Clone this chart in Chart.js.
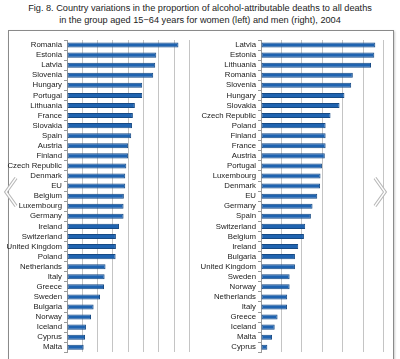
<!DOCTYPE html>
<html><head><meta charset="utf-8">
<script src="https://cdn.jsdelivr.net/npm/chart.js@4"></script>
<style>
html,body{margin:0;padding:0;background:#fff;width:400px;height:359px;overflow:hidden;position:relative;font-family:"Liberation Sans",Arial,sans-serif}
#title{position:absolute;left:0;top:2px;width:400px;text-align:center;font-size:9.2px;line-height:12px;color:#222}
#frame{position:absolute;left:8px;top:30px;width:384px;height:340px;border:1px solid #8a8a8a;box-shadow:1px 1px 2px #ccc}
#c1{position:absolute;left:0;top:0}
#c2{position:absolute;left:200px;top:0}
svg{position:absolute;left:0;top:0}
</style></head><body>
<div id="title">Fig. 8. Country variations in the proportion of alcohol-attributable deaths to all deaths<br>in the group aged 15−64 years for women (left) and men (right), 2004</div>
<div id="frame"></div>
<canvas id="c1" width="200" height="359"></canvas>
<canvas id="c2" width="200" height="359"></canvas>
<svg width="400" height="359">
<polyline points="16,178 6,192 16,206" fill="none" stroke="#b8b8b8" stroke-width="3.5"/>
<polyline points="16,178 6,192 16,206" fill="none" stroke="#fff" stroke-width="1.3"/>
<polyline points="375,178 385,192 375,206" fill="none" stroke="#b8b8b8" stroke-width="3.5"/>
<polyline points="375,178 385,192 375,206" fill="none" stroke="#fff" stroke-width="1.3"/>
</svg>
<script>
const womenCountries = ["Romania","Estonia","Latvia","Slovenia","Hungary","Portugal","Lithuania","France","Slovakia","Spain","Austria","Finland","Czech Republic","Denmark","EU","Belgium","Luxembourg","Germany","Ireland","Switzerland","United Kingdom","Poland","Netherlands","Italy","Greece","Sweden","Bulgaria","Norway","Iceland","Cyprus","Malta"];
const womenValues = [7.29,5.84,5.77,5.64,4.92,4.92,4.44,4.31,4.25,4.20,4.00,4.00,3.88,3.81,3.81,3.72,3.70,3.70,3.40,3.20,3.20,3.18,2.52,2.46,2.42,2.16,1.74,1.57,1.24,1.18,1.09];
const menCountries = ["Latvia","Estonia","Lithuania","Romania","Slovenia","Hungary","Slovakia","Czech Republic","Poland","Finland","France","Austria","Portugal","Luxembourg","Denmark","EU","Germany","Spain","Switzerland","Belgium","Ireland","Bulgaria","United Kingdom","Sweden","Norway","Netherlands","Italy","Greece","Iceland","Malta","Cyprus"];
const menValues = [5.59,5.54,5.38,4.49,4.41,4.08,3.84,3.40,3.16,3.16,3.16,3.12,2.98,2.91,2.89,2.75,2.52,2.44,2.16,2.10,1.82,1.66,1.66,1.40,1.40,1.28,1.27,0.81,0.67,0.54,0.31];

const fontFam = '"Liberation Sans",Arial,sans-serif';
function makeChart(id, labels, values, xMax, yWidth, padRight, padBottom){
  return new Chart(document.getElementById(id), {
    type:'bar',
    data:{labels:labels, datasets:[{data:values, backgroundColor:'#1f63b0', borderColor:'#174a84', borderWidth:1, borderSkipped:false, barPercentage:0.5, categoryPercentage:1}]},
    options:{
      indexAxis:'y', responsive:false, animation:false, maintainAspectRatio:false,
      layout:{padding:{top:40,right:padRight,bottom:padBottom,left:0}},
      plugins:{legend:{display:false},title:{display:false},tooltip:{enabled:false}},
      scales:{
        x:{min:0,max:xMax,ticks:{display:false,stepSize:1},grid:{color:'#c4c4c4',lineWidth:1,drawTicks:false},border:{display:false},
           afterFit:s=>{s.height=0;}},
        y:{ticks:{color:'#1a1a1a',font:{family:fontFam,size:7.8},padding:2,autoSkip:false},
           grid:{drawOnChartArea:false,color:'#9a9a9a',tickLength:3},border:{display:true,color:'#9a9a9a'},
           afterFit:s=>{s.width=yWidth;}}
      }
    }
  });
}
makeChart('c1', womenCountries, womenValues, 8, 67, 10.7, 0);
makeChart('c2', menCountries, menValues, 6, 61, 16.3, 3);
</script>
</body></html>
